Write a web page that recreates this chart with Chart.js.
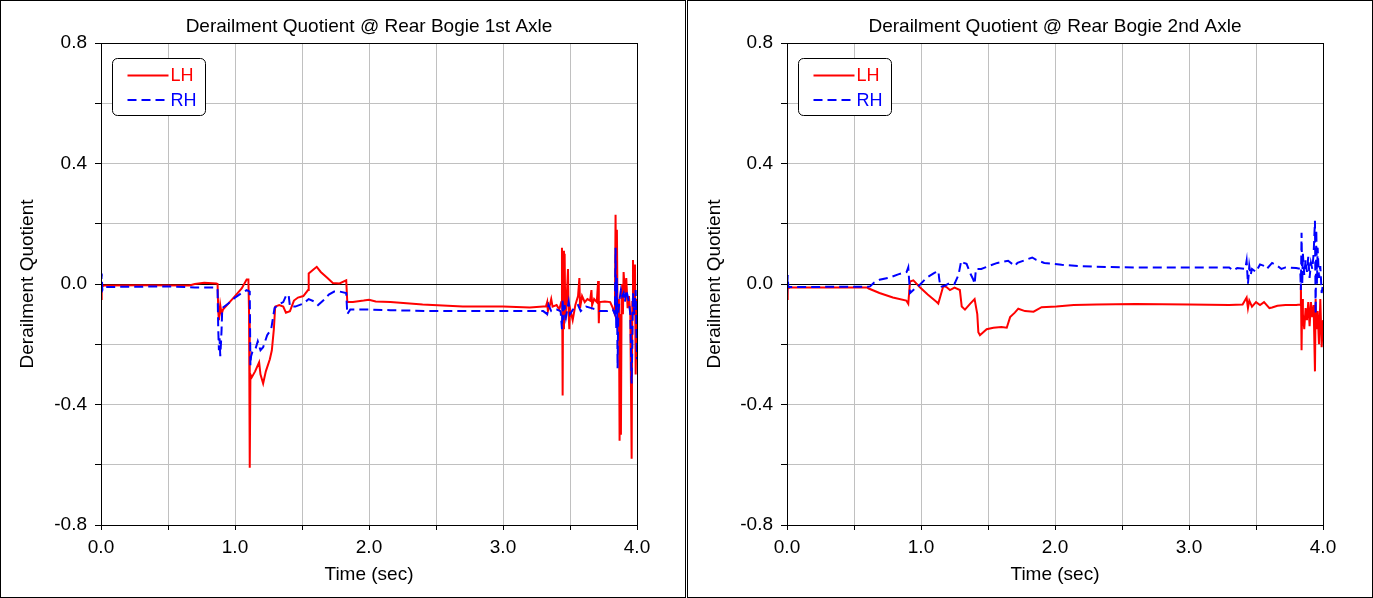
<!DOCTYPE html>
<html>
<head>
<meta charset="utf-8">
<script src="https://cdn.jsdelivr.net/npm/chart.js@4/dist/chart.umd.min.js"></script>
<style>
  body { margin: 0; background: #fff; }
  .panel { position: absolute; top: 0; width: 686px; height: 598px; border: 1px solid #000; box-sizing: border-box; }
  canvas { display: block; }
</style>
</head>
<body>
<div class="panel" style="left:0"><canvas id="chart_left" width="684" height="596"></canvas></div>
<div class="panel" style="left:687px"><canvas id="chart_right" width="684" height="596"></canvas></div>
<script>
// [time (sec), derailment quotient]
const leftLH = [
  [0,-0.05],[0.005,-0.01],[0.02,-0.005],[0.3,-0.004],[0.66,-0.005],[0.7,0.0],[0.77,0.004],[0.86,0.002],[0.87,0.0],
  [0.875,-0.09],[0.88,-0.12],[0.89,-0.07],[0.9,-0.1],[0.91,-0.085],[0.95,-0.065],[1.0,-0.04],[1.05,-0.015],[1.087,0.015],
  [1.1,0.015],[1.105,-0.1],[1.11,-0.61],[1.115,-0.3],[1.125,-0.31],[1.15,-0.29],[1.18,-0.26],[1.19,-0.3],[1.21,-0.33],
  [1.23,-0.29],[1.26,-0.25],[1.275,-0.22],[1.29,-0.15],[1.3,-0.075],[1.33,-0.07],[1.36,-0.075],[1.38,-0.095],[1.41,-0.09],
  [1.44,-0.055],[1.47,-0.045],[1.51,-0.04],[1.545,-0.02],[1.55,0.035],[1.59,0.05],[1.61,0.057],[1.64,0.04],[1.69,0.02],
  [1.73,0.003],[1.78,0.002],[1.83,0.012],[1.838,-0.06],[1.88,-0.06],[1.96,-0.055],[2.0,-0.052],[2.05,-0.058],[2.16,-0.06],
  [2.4,-0.068],[2.7,-0.075],[3.0,-0.075],[3.2,-0.078],[3.3,-0.075],[3.32,-0.075],[3.33,-0.06],[3.335,-0.09],[3.35,-0.07],
  [3.36,-0.05],[3.37,-0.075],[3.4,-0.07],[3.42,-0.085],[3.435,-0.06],[3.44,0.12],[3.445,-0.37],[3.45,0.11],[3.455,-0.15],
  [3.46,0.1],[3.465,-0.12],[3.475,-0.05],[3.485,0.05],[3.49,-0.1],[3.495,-0.15],[3.5,-0.08],[3.52,-0.12],[3.54,-0.07],
  [3.56,-0.04],[3.57,0.02],[3.575,-0.08],[3.59,-0.04],[3.61,-0.06],[3.63,-0.05],[3.65,-0.055],[3.66,-0.02],[3.665,-0.07],
  [3.68,-0.05],[3.7,-0.06],[3.71,0.01],[3.715,-0.13],[3.72,-0.06],[3.76,-0.058],[3.8,-0.06],[3.82,-0.08],[3.835,-0.1],
  [3.84,0.23],[3.845,-0.05],[3.85,0.18],[3.855,-0.1],[3.865,-0.05],[3.87,-0.52],[3.875,-0.1],[3.88,-0.5],[3.885,-0.05],
  [3.89,0.0],[3.895,-0.1],[3.9,0.04],[3.91,-0.03],[3.92,0.02],[3.93,-0.08],[3.94,-0.04],[3.95,-0.1],[3.96,-0.58],
  [3.965,-0.06],[3.97,0.08],[3.975,-0.05],[3.98,-0.1],[3.985,0.065],[3.99,-0.3],[4.0,-0.05]
];
const leftRH = [
  [0,-0.03],[0.005,0.035],[0.01,-0.02],[0.02,-0.01],[0.5,-0.008],[0.65,-0.01],[0.7,-0.012],[0.86,-0.012],[0.87,-0.02],
  [0.875,-0.15],[0.88,-0.22],[0.885,-0.18],[0.89,-0.24],[0.895,-0.2],[0.9,-0.15],[0.905,-0.08],[0.95,-0.065],[1.0,-0.045],
  [1.05,-0.03],[1.087,-0.02],[1.11,-0.025],[1.115,-0.27],[1.12,-0.24],[1.13,-0.225],[1.15,-0.22],[1.17,-0.19],[1.19,-0.22],
  [1.21,-0.21],[1.24,-0.17],[1.27,-0.15],[1.295,-0.08],[1.32,-0.07],[1.36,-0.06],[1.38,-0.04],[1.4,-0.035],[1.41,-0.075],
  [1.45,-0.075],[1.51,-0.065],[1.55,-0.05],[1.6,-0.06],[1.62,-0.07],[1.67,-0.05],[1.7,-0.035],[1.74,-0.025],[1.78,-0.025],
  [1.83,-0.03],[1.838,-0.1],[1.86,-0.085],[2.0,-0.085],[2.16,-0.087],[2.5,-0.09],[3.0,-0.09],[3.3,-0.09],[3.33,-0.1],
  [3.34,-0.07],[3.36,-0.09],[3.4,-0.085],[3.43,-0.09],[3.44,-0.15],[3.445,-0.05],[3.45,-0.12],[3.46,-0.07],[3.47,-0.11],
  [3.49,-0.06],[3.5,-0.1],[3.53,-0.08],[3.56,-0.07],[3.58,-0.09],[3.62,-0.075],[3.66,-0.08],[3.7,-0.085],[3.72,-0.09],
  [3.78,-0.09],[3.82,-0.085],[3.835,-0.1],[3.84,0.12],[3.845,-0.15],[3.85,0.02],[3.855,-0.28],[3.86,-0.1],[3.87,-0.05],
  [3.88,-0.02],[3.89,-0.04],[3.9,-0.03],[3.91,-0.06],[3.92,-0.02],[3.93,-0.04],[3.94,-0.06],[3.95,-0.1],[3.96,-0.33],
  [3.965,-0.2],[3.97,-0.03],[3.98,-0.1],[3.99,-0.02],[4.0,-0.25]
];
const rightLH = [
  [0,-0.05],[0.005,-0.015],[0.02,-0.012],[0.6,-0.012],[0.61,-0.015],[0.69,-0.03],[0.79,-0.045],[0.89,-0.055],[0.905,-0.066],
  [0.918,0.008],[0.943,0.012],[0.99,-0.01],[1.05,-0.035],[1.117,-0.06],[1.129,-0.065],[1.167,-0.006],[1.19,-0.01],
  [1.216,-0.02],[1.25,-0.012],[1.29,-0.02],[1.304,-0.075],[1.328,-0.085],[1.366,-0.066],[1.4,-0.05],[1.42,-0.1],
  [1.428,-0.16],[1.44,-0.17],[1.49,-0.15],[1.54,-0.145],[1.6,-0.143],[1.64,-0.145],[1.665,-0.11],[1.7,-0.095],[1.726,-0.082],
  [1.776,-0.09],[1.84,-0.092],[1.9,-0.077],[2.01,-0.075],[2.14,-0.07],[2.31,-0.068],[2.6,-0.066],[3.0,-0.068],[3.3,-0.07],
  [3.4,-0.068],[3.43,-0.045],[3.44,-0.08],[3.45,-0.055],[3.47,-0.075],[3.5,-0.06],[3.53,-0.07],[3.56,-0.06],[3.6,-0.08],
  [3.62,-0.078],[3.66,-0.072],[3.72,-0.07],[3.8,-0.07],[3.83,-0.068],[3.835,0.0],[3.84,-0.22],[3.845,-0.05],[3.85,-0.1],
  [3.86,-0.15],[3.87,-0.08],[3.88,-0.12],[3.89,-0.06],[3.9,-0.14],[3.91,-0.06],[3.92,-0.11],[3.93,-0.07],[3.94,-0.29],
  [3.945,-0.05],[3.95,-0.15],[3.96,-0.09],[3.97,-0.2],[3.98,-0.05],[3.99,-0.21],[4.0,-0.12]
];
const rightRH = [
  [0,-0.04],[0.005,0.03],[0.01,-0.01],[0.6,-0.009],[0.62,-0.008],[0.65,0.005],[0.69,0.014],[0.77,0.022],[0.83,0.032],
  [0.893,0.04],[0.905,0.055],[0.918,-0.03],[0.943,-0.02],[0.99,-0.003],[1.04,0.02],[1.1,0.037],[1.13,0.043],[1.135,0.02],
  [1.145,-0.01],[1.18,-0.005],[1.22,0.005],[1.25,0.0],[1.28,0.03],[1.3,0.077],[1.32,0.07],[1.34,0.067],[1.37,0.033],
  [1.39,0.015],[1.4,0.0],[1.41,0.05],[1.45,0.05],[1.48,0.055],[1.52,0.062],[1.57,0.07],[1.65,0.077],[1.7,0.06],[1.72,0.07],
  [1.77,0.078],[1.83,0.088],[1.86,0.08],[1.92,0.07],[2.05,0.064],[2.17,0.06],[2.31,0.057],[2.6,0.055],[3.0,0.055],
  [3.3,0.055],[3.33,0.045],[3.36,0.053],[3.42,0.05],[3.43,0.077],[3.44,0.0],[3.45,0.06],[3.46,0.03],[3.47,0.05],[3.5,0.04],
  [3.53,0.065],[3.56,0.06],[3.58,0.05],[3.62,0.07],[3.66,0.06],[3.69,0.05],[3.72,0.055],[3.8,0.053],[3.83,0.05],
  [3.835,-0.02],[3.84,0.17],[3.845,0.0],[3.85,0.1],[3.86,0.03],[3.87,0.08],[3.88,0.04],[3.89,0.09],[3.9,0.02],[3.91,0.07],
  [3.92,0.05],[3.93,0.1],[3.94,0.21],[3.945,-0.1],[3.95,0.18],[3.955,0.0],[3.96,0.12],[3.97,0.02],[3.98,0.06],[3.99,-0.03],
  [4.0,0.0]
];

const seriesNames = ["LH", "RH"];
const seriesColors = ["#ff0000", "#0000ff"];
const xRange = [0, 4];
const yRange = [-0.8, 0.8];

Chart.defaults.font.family = '"Liberation Sans", Arial, sans-serif';
Chart.defaults.color = "#000";

// box around plot area + legend box
const framePlugin = {
    id: "frame",
    afterDraw(chart){
        const ctx = chart.ctx;
        const a = chart.chartArea;
        ctx.save();
        ctx.strokeStyle = "#000";
        ctx.lineWidth = 1;
        ctx.setLineDash([]);
        ctx.strokeRect(a.left + 0.5, a.top + 0.5, a.right - a.left, a.bottom - a.top);

        const bx = a.left + 11.5, by = a.top + 15.5, bw = 93, bh = 57, r = 5;
        ctx.fillStyle = "#fff";
        ctx.beginPath();
        ctx.roundRect(bx, by, bw, bh, r);
        ctx.fill();
        ctx.stroke();

        ctx.font = '18px "Liberation Sans", Arial, sans-serif';
        ctx.textBaseline = "middle";
        ctx.lineWidth = 2;
        chart.data.datasets.forEach(function(ds, i){
            const ly = by + 17 + i * 24.5;
            ctx.strokeStyle = ds.borderColor;
            ctx.setLineDash(ds.borderDash || []);
            ctx.beginPath();
            ctx.moveTo(bx + 15, ly);
            ctx.lineTo(bx + 56, ly);
            ctx.stroke();
            ctx.fillStyle = ds.borderColor;
            ctx.fillText(ds.label, bx + 58, ly + 1);
        });
        ctx.restore();
    }
};

function makeChart(canvas_id, title, lh, rh, axisWidth){
    const datasets = [lh, rh].map(function(series, i){
        return {
            label: seriesNames[i],
            data: series.map(function(p){ return {x: p[0], y: p[1]}; }),
            borderColor: seriesColors[i],
            borderWidth: 2,
            borderDash: i === 1 ? [9, 5] : [],
            pointRadius: 0,
            tension: 0,
            fill: false,
            order: i === 1 ? 0 : 1
        };
    });

    new Chart(document.getElementById(canvas_id).getContext("2d"), {
        type: "line",
        data: { datasets: datasets },
        options: {
            responsive: false,
            animation: false,
            layout: { padding: { left: 0, right: 684 - axisWidth - 536, top: 0, bottom: 0 } },
            plugins: {
                legend: { display: false },
                tooltip: { enabled: false },
                title: {
                    display: true,
                    fullSize: false,
                    text: title,
                    font: { size: 19, weight: "normal" },
                    color: "#000",
                    padding: { top: 14.4, bottom: 4.8 }
                }
            },
            scales: {
                x: {
                    type: "linear",
                    min: xRange[0],
                    max: xRange[1],
                    afterFit: function(scale){ scale.height = 72; },
                    ticks: {
                        stepSize: 0.5,
                        autoSkip: false,
                        maxRotation: 0,
                        padding: 6,
                        font: { size: 19 },
                        color: "#000",
                        callback: function(v){ return Math.abs(v - Math.round(v)) < 1e-6 ? v.toFixed(1) : ""; }
                    },
                    grid: { color: "#c0c0c0", tickColor: "#000", tickLength: 5 },
                    border: { color: "#000" },
                    title: { display: true, text: "Time (sec)", font: { size: 19 }, color: "#000", padding: { top: 0, bottom: 10.6 } }
                },
                y: {
                    min: yRange[0],
                    max: yRange[1],
                    afterFit: function(scale){ scale.width = axisWidth; },
                    ticks: {
                        stepSize: 0.2,
                        autoSkip: false,
                        padding: 8,
                        font: { size: 19 },
                        color: "#000",
                        callback: function(v){
                            const q = v / 0.4;
                            if(Math.abs(q - Math.round(q)) > 1e-6) return "";
                            return (Math.abs(v) < 1e-9 ? 0 : v).toFixed(1);
                        }
                    },
                    grid: {
                        color: function(c){ return c.tick && Math.abs(c.tick.value) < 1e-9 ? "#000" : "#c0c0c0"; },
                        tickColor: "#000",
                        tickLength: 6
                    },
                    border: { color: "#000" },
                    title: { display: true, text: "Derailment Quotient", font: { size: 19 }, color: "#000", padding: { top: 15.6, bottom: 0 } }
                }
            }
        },
        plugins: [framePlugin]
    });
}

makeChart("chart_left", "Derailment Quotient @ Rear Bogie 1st Axle", leftLH, leftRH, 100);
makeChart("chart_right", "Derailment Quotient @ Rear Bogie 2nd Axle", rightLH, rightRH, 99);
</script>
</body>
</html>
